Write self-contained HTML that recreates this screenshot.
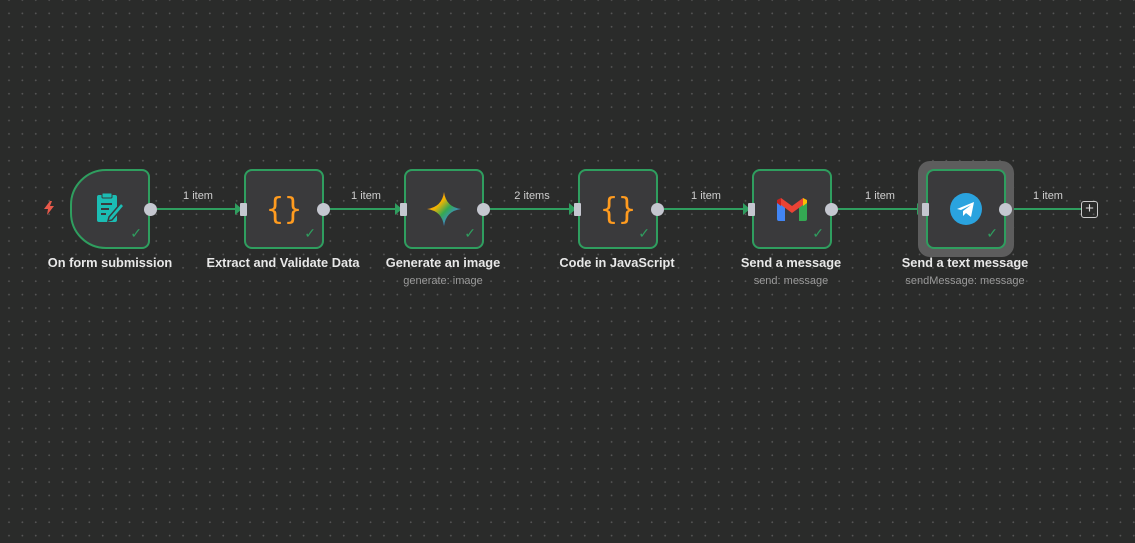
<!DOCTYPE html>
<html><head><meta charset="utf-8"><style>
*{margin:0;padding:0;box-sizing:border-box}
body{width:1135px;height:543px;overflow:hidden;background:#2a2b2a;
background-image:radial-gradient(circle,#555 0.8px,transparent 1.1px);
background-size:13.4px 13.4px;background-position:2.3px -6.7px;
font-family:"Liberation Sans",sans-serif;position:relative}
.n{position:absolute;top:169px;width:80px;height:80px;background:#3a3a3c;border:2px solid #2f9e5f;border-radius:8px}
.n .ck{position:absolute;right:6px;bottom:5px;color:#2f9e5f;font-size:14px}
.out{position:absolute;top:203px;width:13px;height:13px;border-radius:50%;background:#c5c7d0}
.in{position:absolute;top:203px;width:7px;height:13px;background:#c5c7d0;border-radius:1px}
.lbl{position:absolute;top:255px;width:200px;text-align:center;color:#e8e8e8;font-size:12.8px;font-weight:bold}
.sub{position:absolute;top:275px;width:200px;text-align:center;color:#9a9a9a;font-size:11px}
.el{position:absolute;top:190px;color:#cfcfcf;font-size:11px;width:80px;text-align:center}
.ln{position:absolute;top:208px;height:2px;background:#2f9e5f}
.ar{position:absolute;top:203px;width:0;height:0;border-top:6px solid transparent;border-bottom:6px solid transparent;border-left:7px solid #2f9e5f}
.icon{position:absolute;left:0;top:0;width:76px;height:76px;display:flex;align-items:center;justify-content:center}
</style></head><body>
<svg style="position:absolute;left:43px;top:201px" width="12" height="14" viewBox="0 0 12 14"><path d="M7 0 L1 8 L5 8 L4 14 L11 5 L7 5 L9 0Z" fill="#e8594a"/></svg>
<!-- node1 -->
<div class="n" style="left:70px;border-radius:36px 8px 8px 36px"><div class="icon"><svg width="34" height="34" viewBox="0 0 34 34"><rect x="4" y="3" width="20" height="27" rx="2" fill="#1bbdb4"/><rect x="9" y="1" width="10" height="5" rx="1" fill="#1bbdb4" stroke="#3a3a3c" stroke-width="1"/><g stroke="#3a3a3c" stroke-width="2"><line x1="8" y1="12" x2="19" y2="12"/><line x1="8" y1="17" x2="16" y2="17"/><line x1="8" y1="22" x2="13" y2="22"/></g><path d="M16 25 L28 11 L31 14 L19 28 L15 29Z" fill="#1bbdb4" stroke="#3a3a3c" stroke-width="1.5"/></svg></div><span class="ck">✓</span></div>
<div class="out" style="left:144px"></div>
<div class="lbl" style="left:10px">On form submission</div>
<!-- edges -->
<div class="ln" style="left:157px;width:80px"></div><div class="ar" style="left:235px"></div><div class="el" style="left:158px">1 item</div>
<div class="ln" style="left:330px;width:67px"></div><div class="ar" style="left:395px"></div><div class="el" style="left:326px">1 item</div>
<div class="ln" style="left:490px;width:81px"></div><div class="ar" style="left:569px"></div><div class="el" style="left:492px">2 items</div>
<div class="ln" style="left:664px;width:81px"></div><div class="ar" style="left:743px"></div><div class="el" style="left:666px">1 item</div>
<div class="ln" style="left:838px;width:81px"></div><div class="ar" style="left:917px"></div><div class="el" style="left:840px">1 item</div>
<div class="ln" style="left:1012px;width:69px"></div><div class="el" style="left:1008px">1 item</div>
<div style="position:absolute;left:1081px;top:201px;width:17px;height:17px;border:1.5px solid #ccc;border-radius:3px;color:#ddd;font-size:15px;line-height:13px;text-align:center">+</div>
<!-- node2 -->
<div class="n" style="left:244px"><div class="icon" style="color:#ff9b1f;font-size:30px;font-family:'DejaVu Sans Mono',monospace">{}</div><span class="ck">✓</span></div>
<div class="in" style="left:240px"></div><div class="out" style="left:317px"></div>
<div class="lbl" style="left:183px">Extract and Validate Data</div>
<!-- node3 -->
<div class="n" style="left:404px"><div class="icon"><svg width="36" height="36" viewBox="0 0 36 36"><defs><linearGradient id="g" x1="0" y1="0" x2="1" y2="1"><stop offset="0" stop-color="#f04a4a"/><stop offset=".35" stop-color="#f5b400"/><stop offset=".55" stop-color="#34a853"/><stop offset=".8" stop-color="#4285f4"/></linearGradient></defs><path d="M18 1 Q20 16 35 18 Q20 20 18 35 Q16 20 1 18 Q16 16 18 1Z" fill="url(#g)"/></svg></div><span class="ck">✓</span></div>
<div class="in" style="left:400px"></div><div class="out" style="left:477px"></div>
<div class="lbl" style="left:343px">Generate an image</div>
<div class="sub" style="left:343px">generate: image</div>
<!-- node4 -->
<div class="n" style="left:578px"><div class="icon" style="color:#ff9b1f;font-size:30px;font-family:'DejaVu Sans Mono',monospace">{}</div><span class="ck">✓</span></div>
<div class="in" style="left:574px"></div><div class="out" style="left:651px"></div>
<div class="lbl" style="left:517px">Code in JavaScript</div>
<!-- node5 -->
<div class="n" style="left:752px"><div class="icon"><svg width="34" height="26" viewBox="0 0 34 26"><path d="M2 25V6l4-3 4 3v19H4a2 2 0 0 1-2-2z" fill="#4285f4"/><path d="M32 25V6l-4-3-4 3v19h6a2 2 0 0 0 2-2z" fill="#34a853"/><path d="M2 6 L17 17 L32 6 L28 2 L17 10 L6 2Z" fill="#ea4335"/><path d="M28 2 L32 4 L32 7 L28 10Z" fill="#fbbc04"/><path d="M6 2 L2 4 L2 7 L6 10Z" fill="#c5221f"/></svg></div><span class="ck">✓</span></div>
<div class="in" style="left:748px"></div><div class="out" style="left:825px"></div>
<div class="lbl" style="left:691px">Send a message</div>
<div class="sub" style="left:691px">send: message</div>
<!-- node6 -->
<div style="position:absolute;left:918px;top:161px;width:96px;height:96px;border-radius:12px;background:#5d5d5d"></div>
<div class="n" style="left:926px"><div class="icon"><svg width="34" height="34" viewBox="0 0 34 34"><circle cx="17" cy="17" r="16" fill="#2aa3df"/><path d="M8 17 L25 10 L22 25 L17 21 L14 24 L14 19 L22 13 L12 18Z" fill="#fff"/></svg></div><span class="ck">✓</span></div>
<div class="in" style="left:922px"></div><div class="out" style="left:999px"></div>
<div class="lbl" style="left:865px">Send a text message</div>
<div class="sub" style="left:865px">sendMessage: message</div>
</body></html>
